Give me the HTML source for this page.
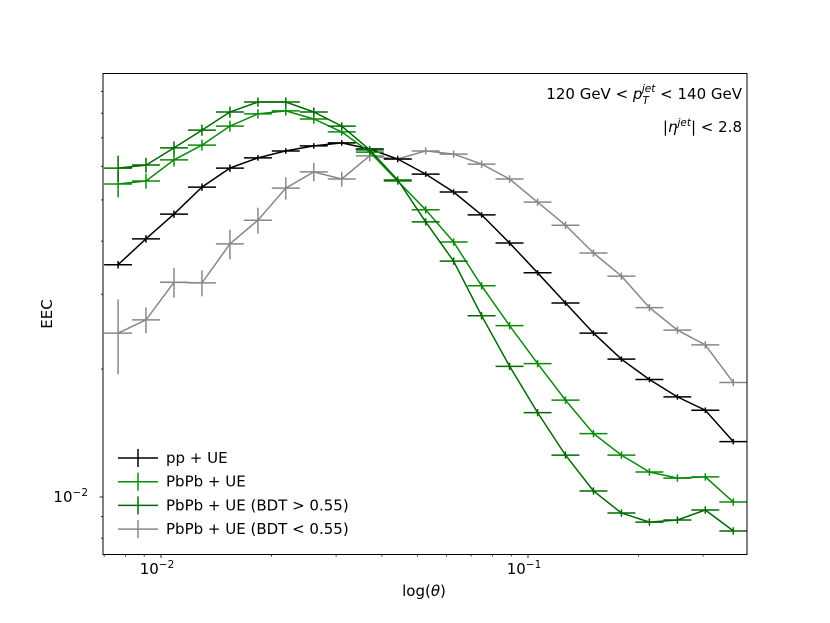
<!DOCTYPE html>
<html><head><meta charset="utf-8"><style>
html,body{margin:0;padding:0;background:#fff;}
svg{display:block;font-family:"DejaVu Sans","Liberation Sans",sans-serif;}
</style></head><body>
<svg id="chart" width="830" height="623" viewBox="0 0 830 623" xmlns="http://www.w3.org/2000/svg">
<rect x="0" y="0" width="830" height="623" fill="#fff"/>
<g id="marks"></g>
<rect x="103" y="73.5" width="644" height="481" fill="none" stroke="#000" stroke-width="1"/>
<g id="axes"></g>
<text x="742" y="99" text-anchor="end" font-size="15">120 GeV &lt; <tspan font-style="italic">p</tspan><tspan font-style="italic" font-size="10.5" dy="5">T</tspan><tspan font-style="italic" font-size="10.5" dx="-7" dy="-12">jet</tspan><tspan dy="7"> &lt; 140 GeV</tspan></text>
<text x="742" y="132" text-anchor="end" font-size="15">|<tspan font-style="italic">η</tspan><tspan font-style="italic" font-size="10.5" dy="-6">jet</tspan><tspan dy="6">| &lt; 2.8</tspan></text>
<text x="424" y="596" text-anchor="middle" font-size="15">log(<tspan font-style="italic">θ</tspan>)</text>
<text x="0" y="0" transform="translate(52,314) rotate(-90)" text-anchor="middle" font-size="15">EEC</text>
<g id="legend"></g>
</svg>
<script>
const thetas=[0.00764,0.00910,0.01085,0.01293,0.01541,0.01837,0.02188,0.02608,0.03108,0.03705,0.04416,0.05262,0.06272,0.07474,0.08907,0.1062,0.1265,0.1508,0.1797,0.2142,0.2553,0.3042,0.3626];
const ppUE=[0.0352,0.0405,0.0463,0.0536,0.0594,0.0628,0.0652,0.0670,0.0681,0.0659,0.0624,0.0575,0.0522,0.0461,0.0396,0.0337,0.0286,0.0243,0.0211,0.0189,0.0172,0.0160,0.0135];
const pbpbUE=[0.0545,0.0554,0.0621,0.0673,0.0746,0.0797,0.0810,0.0775,0.0723,0.0648,0.0554,0.0474,0.0398,0.0314,0.0253,0.0206,0.0169,0.0141,0.01255,0.01145,0.01108,0.01115,0.00973];
const pbpbHigh=[0.0594,0.0604,0.0663,0.0730,0.0805,0.0850,0.0850,0.0805,0.0746,0.0656,0.0557,0.0444,0.0359,0.0267,0.0203,0.0158,0.01255,0.01033,0.00917,0.00873,0.00883,0.00932,0.00832];
const pbpbLow=[0.0243,0.0261,0.0320,0.0319,0.0394,0.0448,0.0533,0.0582,0.0560,0.0635,0.0624,0.0652,0.0641,0.0607,0.0560,0.0494,0.0436,0.0375,0.0331,0.0279,0.0247,0.0228,0.0186];
const errPP=[0.02,0.02,0.02,0.02,0.02,0.015,0.015,0.015,0.015,0.015,0.015,0.015,0.015,0.015,0.015,0.015,0.015,0.015,0.015,0.015,0.015,0.015,0.015];
const errPbPb=[0.07,0.04,0.035,0.03,0.03,0.025,0.025,0.025,0.02,0.02,0.02,0.02,0.02,0.02,0.02,0.02,0.02,0.02,0.02,0.02,0.02,0.02,0.02];
const errLow=[0.2,0.07,0.08,0.07,0.08,0.07,0.06,0.05,0.04,0.03,0.02,0.02,0.02,0.02,0.02,0.02,0.02,0.02,0.02,0.02,0.02,0.02,0.02];
const xTickVals=[0.01,0.1];
const xTickLabels=["10","10"];
const xTickExps=["−2","−1"];
const yTickVals=[0.01];
const legendLabels=["pp + UE","PbPb + UE","PbPb + UE (BDT > 0.55)","PbPb + UE (BDT < 0.55)"];

const X0=103,X1=747,Y0=73.5,Y1=554.5;
const xRef=161,xDec=367,yRef=497,yDec=425;
function sx(v){return xRef+(Math.log10(v)+2)*xDec;}
function sy(v){return yRef-(Math.log10(v)+2)*yDec;}
const halfBin=0.0381;
const NS="http://www.w3.org/2000/svg";
function mk(tag,attrs,parent){const e=document.createElementNS(NS,tag);for(const k in attrs)e.setAttribute(k,attrs[k]);parent.appendChild(e);return e;}

const marks=document.getElementById('marks');
const clip=mk('clipPath',{id:'pc'},marks);
mk('rect',{x:X0,y:Y0,width:X1-X0,height:Y1-Y0},clip);
const series=[
 {vals:pbpbLow,err:errLow,color:'#888888',name:'pbpb-ue-bdt-low'},
 {vals:ppUE,err:errPP,color:'#000000',name:'pp-ue'},
 {vals:pbpbUE,err:errPbPb,color:'#0a8a0a',name:'pbpb-ue'},
 {vals:pbpbHigh,err:errPbPb,color:'#006a00',name:'pbpb-ue-bdt-high'}
];
series.forEach(s=>{
  const g=mk('g',{'clip-path':'url(#pc)'},marks);
  
  
  const pts=thetas.map((t,i)=>sx(t).toFixed(1)+','+sy(s.vals[i]).toFixed(1)).join(' ');
  const pl=mk('polyline',{points:pts,fill:'none',stroke:s.color,'stroke-width':1.5},g);
  
  
  thetas.forEach((t,i)=>{
    const cx=sx(t),cy=sy(s.vals[i]);
    const xl=xRef+(Math.log10(t)-halfBin+2)*xDec,xr=xRef+(Math.log10(t)+halfBin+2)*xDec;
    const h=mk('line',{x1:xl,x2:xr,y1:cy,y2:cy,stroke:s.color,'stroke-width':1.5},g);
    
    
    const v=mk('line',{x1:cx,x2:cx,y1:sy(s.vals[i]*(1+s.err[i])),y2:sy(s.vals[i]*(1-s.err[i])),stroke:s.color,'stroke-width':1.5},g);
    
    
  });
});

const axes=document.getElementById('axes');
// x ticks
for(let d=-3;d<=0;d++){for(let m=1;m<10;m++){const v=m*Math.pow(10,d);const x=sx(v);if(x<X0||x>X1)continue;
  const t=mk('line',{x1:x,x2:x,y1:Y1,y2:Y1+(m===1?3.5:2),stroke:'#000','stroke-width':0.8},axes);
  
  }}
xTickVals.forEach((v,i)=>{const tx=mk('text',{x:sx(v)-4,y:574,'text-anchor':'middle','font-size':15},axes);
  
  
  tx.textContent=xTickLabels[i];
  const sp=mk('tspan',{'font-size':10.5,dy:-6},tx);sp.textContent=xTickExps[i];});
// y ticks
for(let d=-3;d<=0;d++){for(let m=1;m<10;m++){const v=m*Math.pow(10,d);const y=sy(v);if(y<Y0||y>Y1)continue;
  const t=mk('line',{x1:X0,x2:X0-(m===1?3.5:2),y1:y,y2:y,stroke:'#000','stroke-width':0.8},axes);
  
  }}
yTickVals.forEach(v=>{const tx=mk('text',{x:88,y:sy(v)+5,'text-anchor':'end','font-size':15},axes);
  
  
  tx.textContent='10';const sp=mk('tspan',{'font-size':10.5,dy:-6},tx);sp.textContent='−2';});

// legend
const leg=document.getElementById('legend');
const legColors=['#000000','#0a8a0a','#006a00','#888888'];
legendLabels.forEach((lab,i)=>{const y=458+i*23.7;
  const l=mk('line',{x1:118,x2:158,y1:y,y2:y,stroke:legColors[i],'stroke-width':1.5},leg);
  
  
  const v=mk('line',{x1:138,x2:138,y1:y-9,y2:y+9,stroke:legColors[i],'stroke-width':1.5},leg);
  
  
  const t=mk('text',{x:166,y:y+5,'font-size':15},leg);
  
  
  t.textContent=lab;});
</script>
</body></html>
